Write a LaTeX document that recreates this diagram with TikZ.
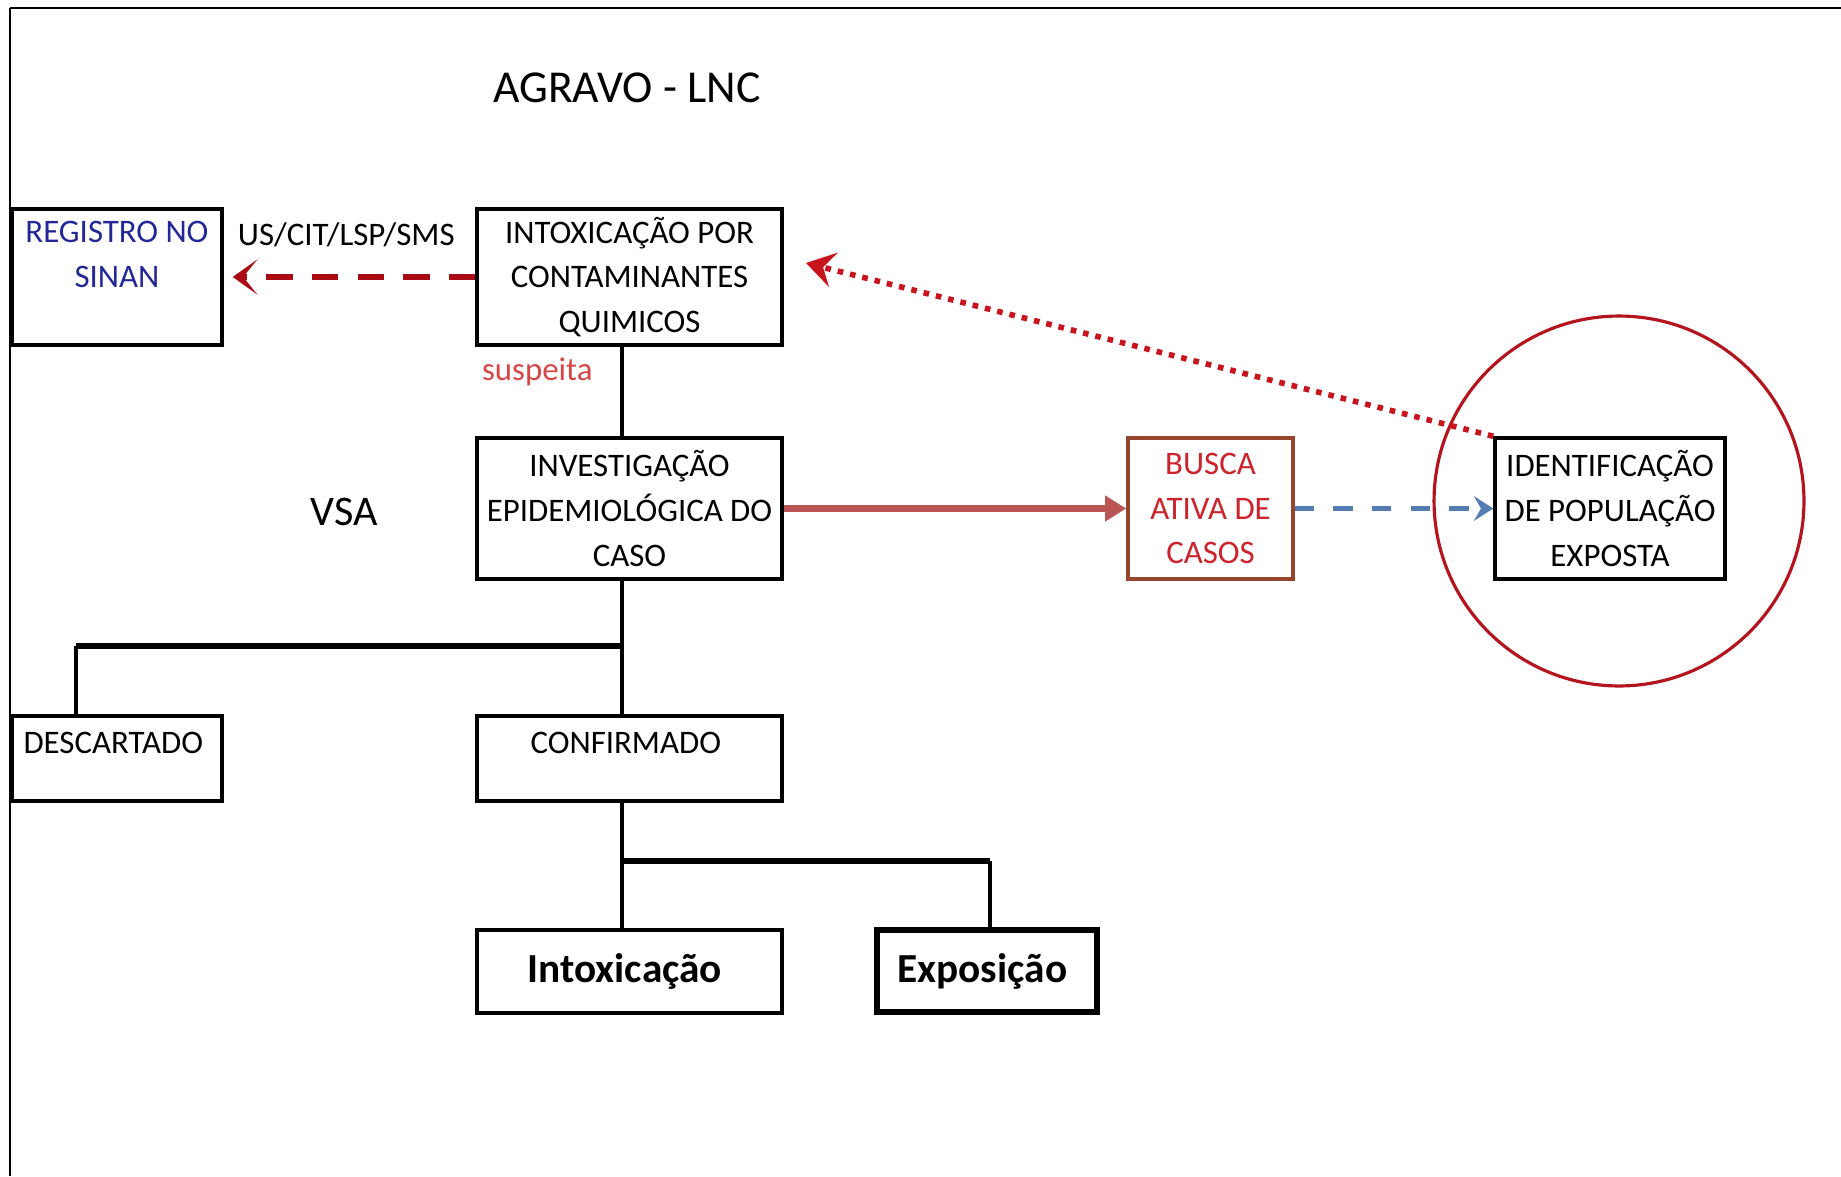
\documentclass[tikz,border=0pt]{standalone}
\usepackage{fontspec}
\setmainfont{Carlito}
\usetikzlibrary{arrows.meta,positioning}
\usepackage{xcolor}
\definecolor{sinanblue}{RGB}{35,40,150}
\definecolor{suspeitared}{RGB}{215,70,70}
\definecolor{notifyred}{RGB}{170,10,20}
\definecolor{dottedred}{RGB}{200,20,30}
\definecolor{buscared}{RGB}{205,35,45}
\definecolor{buscabrown}{RGB}{150,70,45}
\definecolor{arrowred}{RGB}{185,85,85}
\definecolor{arrowblue}{RGB}{85,125,180}
\definecolor{circlered}{RGB}{180,20,30}

\begin{document}
\begin{tikzpicture}[x=0.02cm, y=-0.02cm, every node/.style={
    font=\fontsize{18.7}{25.5}\selectfont,
    align=center,
    inner sep=0pt
}, box/.style={
    rectangle,
    draw,
    line width=2pt
}, toptext/.style={
    text height=12pt,
    text depth=17.6pt
}, bigtext/.style={
    font=\fontsize{24}{28}\selectfont
}, boldtext/.style={
    font=\fontsize{23.5}{28}\selectfont\bfseries
}]
    \useasboundingbox (0, 0) rectangle (1841, 1176);
    % frame
    \draw[line width=1.6pt] (10, 8) -- (1841, 8);
    \draw[line width=0.8pt] (10, 8) -- (10, 1176);

    \node (agravo_lnc) [font=\fontsize{26}{30}\selectfont, shift={(632, 88)}]
    {
        AGRAVO - LNC
    };
    \node (registro_sinan) [box, text=sinanblue, minimum width=4.2cm, minimum height=2.72cm, shift={(117, 277)}]
    {
        REGISTRO NO\\SINAN\\~
    };
    \node (intoxicacao_quimicos) [box, minimum width=6.1cm, minimum height=2.72cm, shift={(629.5, 277)}]
    {
        INTOXICAÇÃO POR\\CONTAMINANTES\\QUIMICOS
    };
    \node (us_cit_lsp_sms) [shift={(350, 235)}]
    {
        US/CIT/LSP/SMS
    };
    \node (suspeita) [text=suspeitared, shift={(541, 372)}]
    {
        suspeita
    };
    \node (investigacao_caso) [box, minimum width=6.1cm, minimum height=2.82cm, shift={(629.5, 508.5)}]
    {
        INVESTIGAÇÃO\\EPIDEMIOLÓGICA DO\\CASO
    };
    \node (vsa) [bigtext, shift={(349, 512)}]
    {
        VSA
    };
    \node (busca_casos) [box, draw=buscabrown, text=buscared, minimum width=3.3cm, minimum height=2.82cm, shift={(1210.5, 508.5)}]
    {
        BUSCA\\ATIVA DE\\CASOS
    };
    \node (identificacao_populacao) [box, minimum width=4.6cm, minimum height=2.82cm, shift={(1610, 508.5)}]
    {
        IDENTIFICAÇÃO\\DE POPULAÇÃO\\EXPOSTA
    };
    \node (populacao_circle) [circle, draw=circlered, line width=1.8pt, minimum size=7.4cm, shift={(1619, 501)}] {};
    \node (descartado) [box, toptext, minimum width=4.2cm, minimum height=1.7cm, shift={(117, 758.5)}]
    {
        DESCARTADO
    };
    \node (confirmado) [box, toptext, minimum width=6.1cm, minimum height=1.7cm, shift={(629.5, 758.5)}]
    {
        CONFIRMADO
    };
    \node (intoxicacao) [box, boldtext, minimum width=6.1cm, minimum height=1.66cm, shift={(629.5, 971.5)}]
    {
        Intoxicação
    };
    \node (exposicao) [box, boldtext, line width=3pt, minimum width=4.4cm, minimum height=1.64cm, shift={(987, 971)}]
    {
        \raisebox{-3pt}{Exposição}
    };

    % branch points
    \coordinate (branch_vsa) at (622, 646);
    \coordinate (branch_descartado) at (76, 646);
    \coordinate (branch_confirmado) at (622, 861);
    \coordinate (branch_exposicao) at (990, 861);
    \coordinate (dotted_tip) at (806, 263);

    \draw[line width=2pt] (intoxicacao_quimicos.south -| branch_vsa) -- (investigacao_caso.north -| branch_vsa);
    \draw[line width=2pt] (investigacao_caso.south -| branch_vsa) -- (confirmado.north -| branch_vsa);
    \draw[line width=2pt] (branch_descartado) -- (branch_descartado |- descartado.north);
    \draw[line width=3.4pt] (branch_descartado) -- (branch_vsa);
    \draw[line width=2pt] (confirmado.south -| branch_confirmado) -- (intoxicacao.north -| branch_confirmado);
    \draw[line width=2pt] (branch_exposicao) -- (branch_exposicao |- exposicao.north);
    \draw[line width=3.4pt] (branch_confirmado) -- (branch_exposicao);

    \draw[-{Stealth[length=14pt, width=20pt, inset=8pt]}, notifyred, line width=3.2pt, dash pattern=on 15pt off 11pt, shorten >=0.18cm] (intoxicacao_quimicos) -- (registro_sinan);
    \draw[-{Triangle[length=12pt, width=14pt]}, arrowred, line width=4pt] (investigacao_caso) -- (busca_casos);
    \draw[-{Stealth[length=11pt, width=14pt, inset=4pt]}, arrowblue, line width=3pt, dash pattern=on 11pt off 11pt] (busca_casos) -- (identificacao_populacao);
    \draw[-{Stealth[length=16pt, width=20pt, inset=6pt]}, dottedred, line width=3.2pt, dash pattern=on 3.2pt off 4pt] (identificacao_populacao.north west) -- (dotted_tip);
\end{tikzpicture}
\end{document}
